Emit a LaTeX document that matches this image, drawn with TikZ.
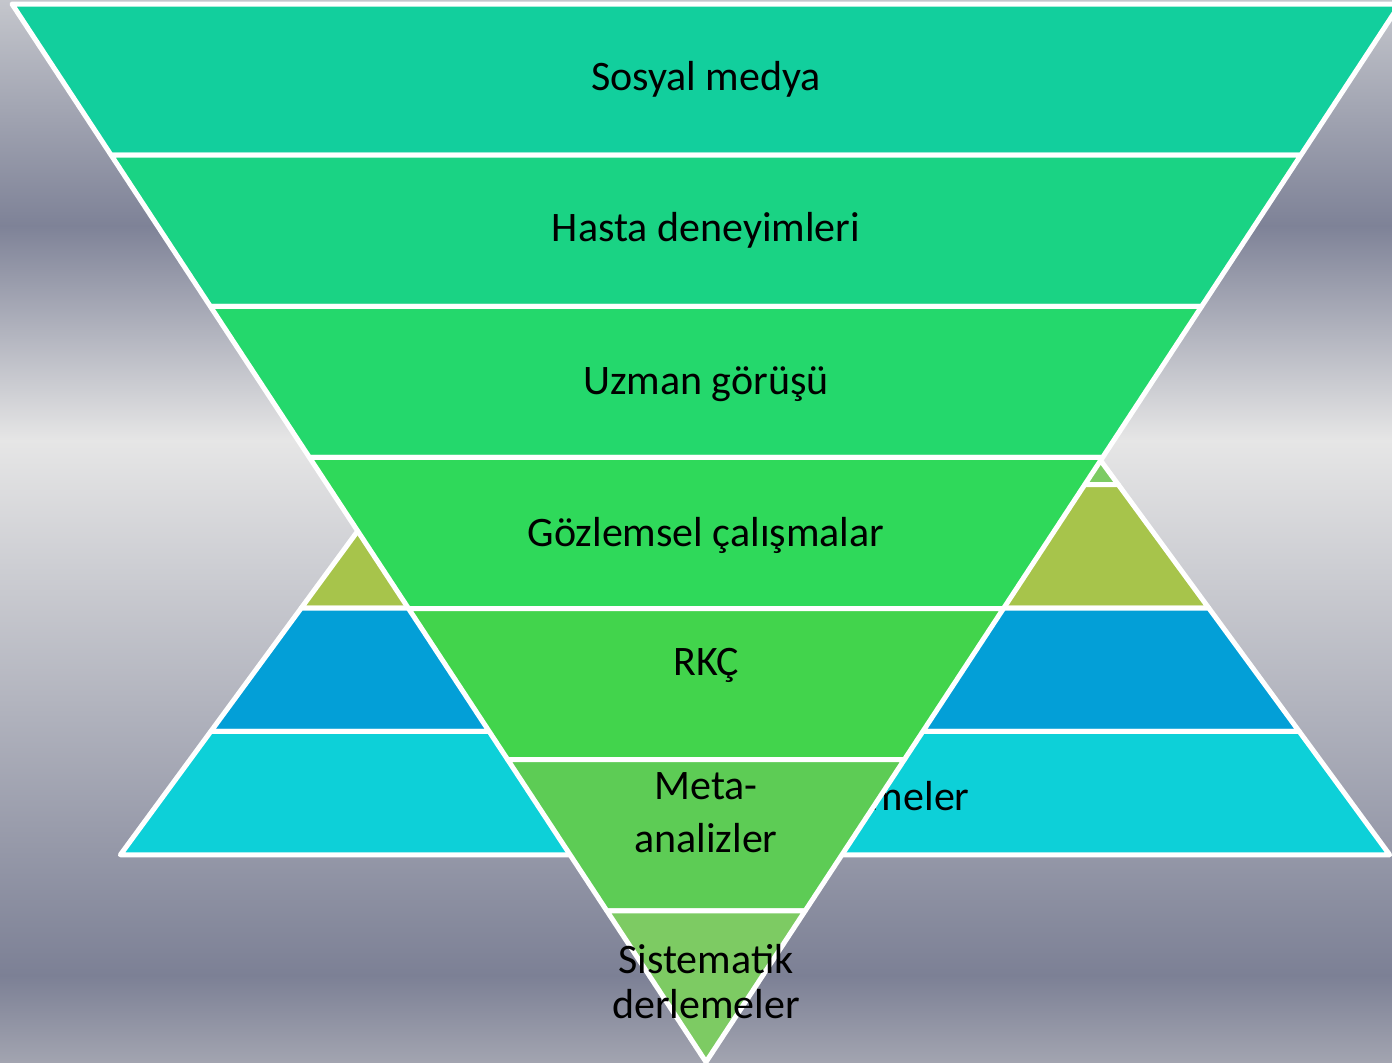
\documentclass[tikz,border=0pt]{standalone}
\usepackage{fontspec}
\setmainfont{Carlito}
\usepackage{xcolor}
\definecolor{bg0}{HTML}{C4C6CC}
\definecolor{bg1}{HTML}{7E8297}
\definecolor{bg2}{HTML}{E6E6E6}
\definecolor{bg3}{HTML}{7C8095}
\definecolor{bg4}{HTML}{A2A4B0}
\definecolor{inv1}{HTML}{12CF9D}
\definecolor{inv2}{HTML}{1AD384}
\definecolor{inv3}{HTML}{24D86C}
\definecolor{inv4}{HTML}{2FD95A}
\definecolor{inv5}{HTML}{42D44C}
\definecolor{inv6}{HTML}{5DCC55}
\definecolor{inv7}{HTML}{7DCB63}
\definecolor{up4}{HTML}{7CCB63}
\definecolor{up5}{HTML}{A7C44B}
\definecolor{up6}{HTML}{039FD7}
\definecolor{up7}{HTML}{0DD0D8}
\tikzstyle{layer}=[draw=white, line width=2.5pt, line join=round]
\tikzstyle{lbl}=[font=\fontsize{21}{26.5}\selectfont, align=center, inner sep=0pt, anchor=base]

\begin{document}
\begin{tikzpicture}[x=0.5pt, y=-0.5pt]
  \useasboundingbox (0,0) rectangle (1392,1062);
  \clip (0,0) rectangle (1392,1062);

  % background bands
  \fill[top color=bg0, bottom color=bg1] (0,0) rectangle (1392,226);
  \fill[top color=bg1, bottom color=bg2] (0,225) rectangle (1392,441);
  \fill[top color=bg2, bottom color=bg3] (0,440) rectangle (1392,976);
  \fill[top color=bg3, bottom color=bg4] (0,975) rectangle (1392,1062);

  % upright pyramid behind
  \foreach \i/\col in {3/up4, 4/up5, 5/up6, 6/up7} {
    \pgfmathsetmacro\ya{-9+123.4*\i}
    \pgfmathsetmacro\yb{\ya+123.4}
    \pgfmathsetmacro\wa{0.733*(\ya+11)}
    \pgfmathsetmacro\wb{0.733*(\yb+11)}
    \filldraw[layer, fill=\col] (755-\wa,\ya) -- (755+\wa,\ya) -- (755+\wb,\yb) -- (755-\wb,\yb) -- cycle;
  }
  \node[lbl, anchor=base east] (hidden) at (970,810) {Sistematik derlemeler};

  % inverted pyramid
  \foreach \i/\col in {0/inv1, 1/inv2, 2/inv3, 3/inv4, 4/inv5, 5/inv6, 6/inv7} {
    \pgfmathsetmacro\ya{4+151.14*\i}
    \pgfmathsetmacro\yb{\ya+151.14}
    \pgfmathsetmacro\wa{0.65595*(1062-\ya)}
    \pgfmathsetmacro\wb{0.65595*(1062-\yb)}
    \filldraw[layer, fill=\col] (706-\wa,\ya) -- (706+\wa,\ya) -- (706+\wb,\yb) -- (706-\wb,\yb) -- cycle;
  }

  \node[lbl] (sosyal) at (706,90)  {Sosyal medya};
  \node[lbl] (hasta)  at (706,241) {Hasta deneyimleri};
  \node[lbl] (uzman)  at (706,394) {Uzman görüşü};
  \node[lbl] (gozlem) at (706,546) {Gözlemsel çalışmalar};
  \node[lbl] (rkc)    at (706,675) {RKÇ};
  \node[lbl] (meta)   at (706,852) {Meta-\\analizler};
  \node[lbl, font=\fontsize{21}{22.5}\selectfont] (sistem) at (706,1018) {Sistematik\\derlemeler};
\end{tikzpicture}
\end{document}
